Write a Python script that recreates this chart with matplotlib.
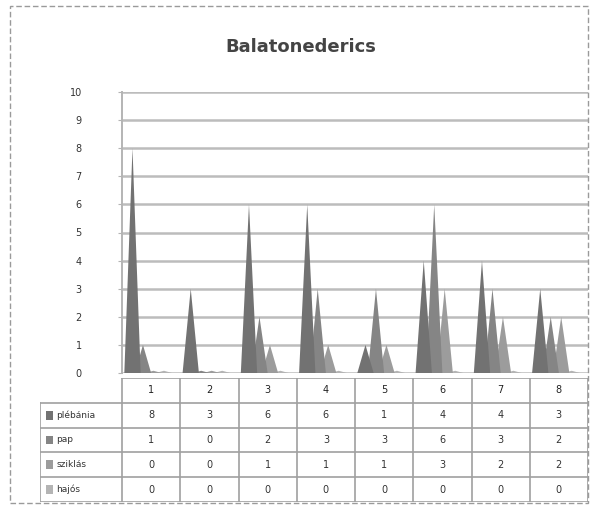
import matplotlib
matplotlib.use("Agg")
import matplotlib.pyplot as plt
from matplotlib.patches import Polygon, Rectangle

title = "Balatonederics"
categories = ["1", "2", "3", "4", "5", "6", "7", "8"]
series_names = ["plébánia", "pap", "sziklás", "hajós"]
s1 = [8, 3, 6, 6, 1, 4, 4, 3]
s2 = [1, 0, 2, 3, 3, 6, 3, 2]
s3 = [0, 0, 1, 1, 1, 3, 2, 2]
s4 = [0, 0, 0, 0, 0, 0, 0, 0]
series = [s1, s2, s3, s4]
yticks = list(range(0, 11))

colors = ["#727272", "#858585", "#9c9c9c", "#b4b4b4"]
offsets = [-0.32, -0.14, 0.04, 0.22]
half_w = 0.14

W, H = 601, 508
fig = plt.figure(figsize=(W / 100, H / 100), dpi=100)
fig.patch.set_facecolor("white")

def fx(px):
    return px / W

def fy(py):
    return 1 - py / H

# outer border
fig.patches.append(Rectangle((fx(10), fy(503)), fx(588) - fx(10), fy(6) - fy(503),
                             transform=fig.transFigure, fill=False,
                             edgecolor="#9a9a9a", linewidth=1.0, linestyle=(0, (4, 2))))

fig.text(0.5, fy(47), title, ha="center", va="center", fontsize=13,
         fontweight="bold", color="#444444")

ax = fig.add_axes([fx(122), fy(373), fx(588) - fx(122), fy(92) - fy(373)])
ax.set_xlim(0, len(categories))
ax.set_ylim(0, 10)
for y in yticks:
    ax.axhline(y, color="#bcbcbc", linewidth=1.8, zorder=1)
ax.set_yticks(yticks)
ax.set_yticklabels([str(t) for t in yticks], fontsize=7, color="#333333")
ax.tick_params(axis="y", length=3, color="#b4b4b4", pad=26)
ax.set_xticks([])
for sp in ["top", "right", "bottom"]:
    ax.spines[sp].set_visible(False)
ax.spines["left"].set_color("#b4b4b4")
ax.spines["left"].set_linewidth(1.4)

for si in reversed(range(len(series))):
    vals = series[si]
    for ci, v in enumerate(vals):
        c = ci + 0.5 + offsets[si]
        h = max(v, 0.08)
        poly = Polygon([(c - half_w, 0), (c + half_w, 0), (c, h)], closed=True,
                       facecolor=colors[si], edgecolor="none", zorder=3 + (4 - si))
        ax.add_patch(poly)

# table
tax = fig.add_axes([fx(40), fy(502), fx(588) - fx(40), fy(378) - fy(502)])
label_w = (122 - 40) / ((588 - 122) / len(categories))
n = len(categories)
nrows = len(series) + 1
tax.set_xlim(-label_w, n)
tax.set_ylim(nrows, 0)
tax.axis("off")
line_c = "#a0a0a0"
for r in range(nrows + 1):
    x0 = 0 if r == 0 else -label_w
    tax.plot([x0, n], [r, r], color=line_c, linewidth=1.2)
for c in range(n + 1):
    tax.plot([c, c], [0, nrows], color=line_c, linewidth=1.2)
tax.plot([-label_w, -label_w], [1, nrows], color=line_c, linewidth=1.2)

for ci, cat in enumerate(categories):
    tax.text(ci + 0.5, 0.5, cat, ha="center", va="center", fontsize=7, color="#222222")
for si, vals in enumerate(series):
    r = si + 1
    tax.add_patch(Rectangle((-label_w + 0.1, r + 0.32), 0.12, 0.36,
                            facecolor=colors[si], edgecolor="none"))
    tax.text(-label_w + 0.28, r + 0.5, series_names[si], ha="left", va="center",
             fontsize=6.5, color="#333333")
    for ci, v in enumerate(vals):
        tax.text(ci + 0.5, r + 0.5, str(v), ha="center", va="center",
                 fontsize=7, color="#333333")

fig.savefig("out.png", dpi=100, facecolor="white")
